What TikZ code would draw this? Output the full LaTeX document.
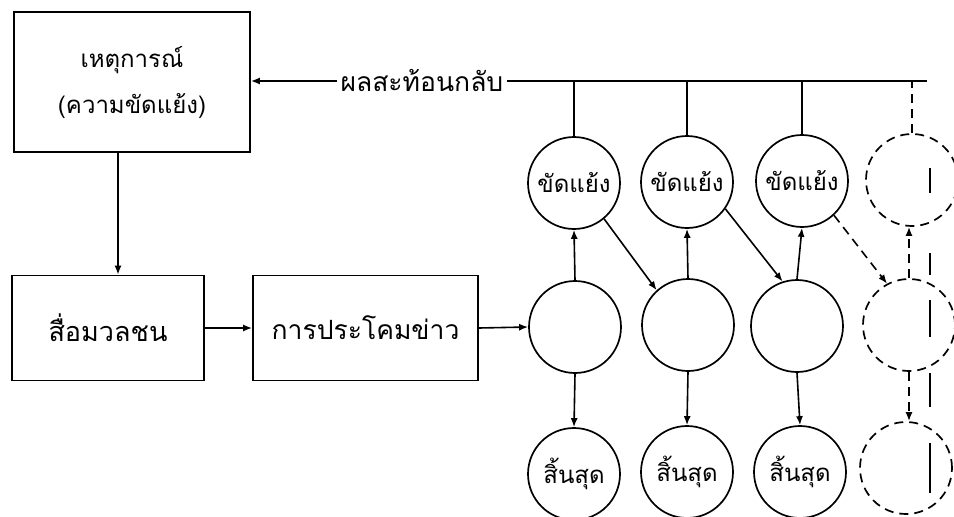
\documentclass[tikz,border=0pt]{standalone}
\usepackage{fontspec}
\newfontfamily\thaifont[Script=Thai]{Loma}
\usetikzlibrary{arrows.meta}
\begin{document}
\begin{tikzpicture}[x=1pt,y=-1pt,
  thaitxt/.style={font={\thaifont\fontsize{24}{46}\selectfont}},
  bigtxt/.style={font={\thaifont\fontsize{26.5}{46}\selectfont}},
  boxnode/.style={draw, rectangle, line width=1.7pt, inner sep=0pt, align=center, thaitxt},
  circnode/.style={draw, circle, line width=1.7pt, minimum size=92pt, inner sep=0pt, thaitxt},
  dcircnode/.style={circnode, dash pattern=on 9pt off 6pt},
  arr/.style={line width=1.6pt, -{Latex[length=9pt,width=7pt]}},
  darr/.style={arr, dash pattern=on 9pt off 6pt},
  plain/.style={line width=1.6pt},
  dplain/.style={line width=1.6pt, dash pattern=on 9pt off 6pt}]
\useasboundingbox (0,0) rectangle (954,517);
\fill[white] (0,0) rectangle (954,517);

% boxes
\node[boxnode, minimum width=236pt, minimum height=140pt] (event) at (132,82) {เหตุการณ์\\(ความขัดแย้ง)};
\node[boxnode, minimum width=192pt, minimum height=105pt, font={\thaifont\fontsize{27}{46}\selectfont}] (media) at (108,328) {สื่อมวลชน};
\node[boxnode, minimum width=225pt, minimum height=105pt, bigtxt] (hype) at (365.5,328) {การประโคมข่าว};

% circles
\node[circnode] (t1) at (574,183) {ขัดแย้ง};
\node[circnode] (t2) at (687,182) {ขัดแย้ง};
\node[circnode] (t3) at (802,181) {ขัดแย้ง};
\node[dcircnode] (t4) at (912,180) {};
\node[circnode] (m1) at (575,327) {};
\node[circnode] (m2) at (688,325) {};
\node[circnode] (m3) at (797,326) {};
\node[dcircnode] (m4) at (909,325) {};
\node[circnode] (b1) at (574,474) {สิ้นสุด};
\node[circnode] (b2) at (687,472) {สิ้นสุด};
\node[circnode] (b3) at (800,472) {สิ้นสุด};
\node[dcircnode] (b4) at (906,468) {};

% coordinates
\coordinate (vx) at (118,0);
\coordinate (fbR) at (927,81);

% left flow
\draw[arr] (event.south -| vx) -- (media.north -| vx);
\draw[arr] (media.east) -- (hype.west);
\draw[arr] (hype.east) -- (m1.west);

% feedback line
\draw[arr] (fbR) -- (event.east |- fbR)
  node[pos=0.747, fill=white, inner sep=4pt, bigtxt] (fb) {ผลสะท้อนกลับ};
\draw[plain] (t1.north) -- (t1.north |- fbR);
\draw[plain] (t2.north) -- (t2.north |- fbR);
\draw[plain] (t3.north) -- (t3.north |- fbR);
\draw[dplain] (t4.north) -- (t4.north |- fbR);

% vertical arrows
\draw[arr] (m1.north) -- (t1.south);
\draw[arr] (m2.north) -- (t2.south);
\draw[arr] (m3.north) -- (t3.south);
\draw[darr] (m4.north) -- (m4.north |- t4.south);
\draw[arr] (m1.south) -- (b1.north);
\draw[arr] (m2.south) -- (b2.north);
\draw[arr] (m3.south) -- (b3.north);
\draw[darr] (m4.south) -- (m4.south |- b4.north);

% diagonal arrows
\draw[arr] (t1.-50) -- (m2.132);
\draw[arr] (t2.-35) -- (m3.108);
\draw[darr] (t3.-47) -- (m4.118);

% faint second dashed trace in the last column
\draw[line width=1.2pt] (930,168) -- (930,193) (930,253) -- (930,275)
  (930,300) -- (930,337) (930,373) -- (930,407) (930,443) -- (930,493);
\end{tikzpicture}
\end{document}
